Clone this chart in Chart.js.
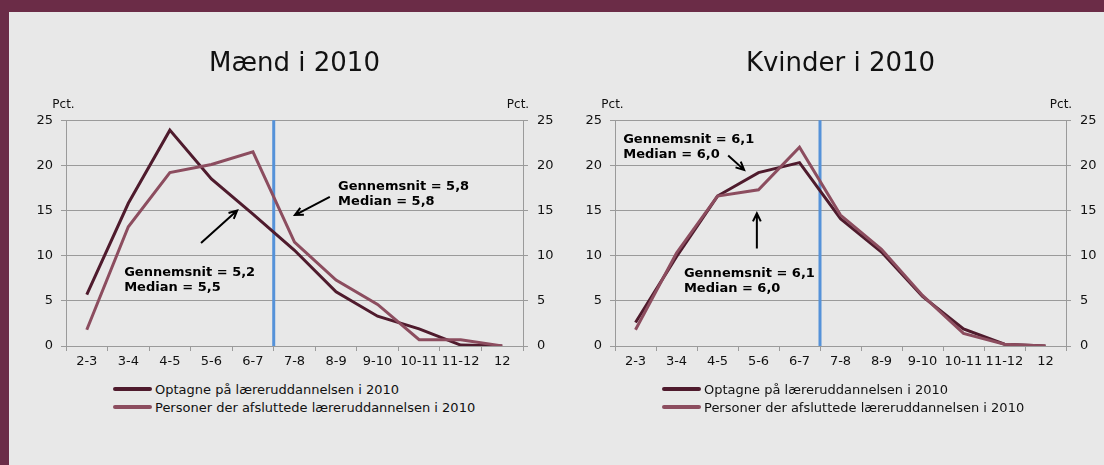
<!DOCTYPE html>
<html lang="da">
<head>
<meta charset="utf-8">
<title>Mænd og kvinder i 2010</title>
<script src="https://cdn.jsdelivr.net/npm/chart.js@4.4.1/dist/chart.umd.min.js"></script>
<style>
    html, body { margin: 0; padding: 0; }
    body {
        width: 1104px; height: 465px; position: relative; overflow: hidden;
        background: #e8e8e8;
        font-family: "DejaVu Sans", Verdana, sans-serif;
    }
    .band { position: absolute; left: 0; top: 0; width: 1104px; height: 12px; background: #6b2c47; }
    .side { position: absolute; left: 0; top: 0; width: 9px; height: 465px; background: #6b2c47; }
    canvas { position: absolute; top: 12px; }
    #maendChart { left: 9px; }
    #kvinderChart { left: 552px; }
    .legend { position: absolute; top: 380px; font-size: 13px; color: #111; }
    .legend .row { height: 18px; display: flex; align-items: center; white-space: nowrap; }
    .legend .swatch { display: inline-block; width: 39px; height: 4px; border-radius: 2px; margin-right: 3px; }
    #maendLegend { left: 113px; }
    #kvinderLegend { left: 662px; }
</style>
</head>
<body>
<div class="band"></div>
<div class="side"></div>
<canvas id="maendChart" width="545" height="364"></canvas>
<canvas id="kvinderChart" width="552" height="364"></canvas>
<div class="legend" id="maendLegend"></div>
<div class="legend" id="kvinderLegend"></div>

<script>
// --- Data ---
const karakterer = ['2-3', '3-4', '4-5', '5-6', '6-7', '7-8', '8-9', '9-10', '10-11', '11-12', '12'];
const yTicks = [0, 5, 10, 15, 20, 25];

const serieNavne = ['Optagne på læreruddannelsen i 2010', 'Personer der afsluttede læreruddannelsen i 2010'];

const maendOptagne    = [5.7, 15.8, 23.9, 18.5, 14.6, 10.6, 6.0, 3.3, 1.9, 0.1, 0.0];
const maendAfsluttede = [1.8, 13.2, 19.2, 20.1, 21.5, 11.5, 7.3, 4.6, 0.7, 0.7, 0.0];

const kvinderOptagne    = [2.6, 9.9, 16.6, 19.2, 20.3, 14.1, 10.4, 5.5, 1.9, 0.2, 0.0];
const kvinderAfsluttede = [1.8, 10.3, 16.6, 17.3, 22.0, 14.5, 10.7, 5.6, 1.4, 0.2, 0.0];

// Skillelinje mellem 6-7 og 7-8 (kategori-indeks)
const skillelinjeIndeks = 4.5;

// Noter: tekst og pile, placeret i data-enheder (kategori-indeks, pct.)
const maendNoter = [
    { tekst: ['Gennemsnit = 5,2', 'Median = 5,5'], x: 0.9, y: 8.1 },
    { tekst: ['Gennemsnit = 5,8', 'Median = 5,8'], x: 6.05, y: 17.6 },
    { pil: [2.75, 11.4, 3.62, 15.0] },
    { pil: [5.85, 16.5, 5.01, 14.5] }
];
const kvinderNoter = [
    { tekst: ['Gennemsnit = 6,1', 'Median = 6,0'], x: -0.3, y: 22.8 },
    { tekst: ['Gennemsnit = 6,1', 'Median = 6,0'], x: 1.18, y: 8.0 },
    { pil: [2.26, 21.1, 2.65, 19.5] },
    { pil: [2.96, 10.8, 2.96, 14.7] }
];

const FONT = '"DejaVu Sans", Verdana, sans-serif';
const morkFarve = '#4f1b2d';
const lysFarve = '#8c4d5f';
const gitterFarve = '#9a9a9a';

// Blå lodret linje, tegnet under kurverne
const skillelinjePlugin = {
    id: 'skillelinje',
    beforeDatasetsDraw(chart, args, opts) {
        const x = chart.scales.x.getPixelForValue(opts.value);
        const area = chart.chartArea;
        const ctx = chart.ctx;
        ctx.save();
        ctx.strokeStyle = '#5592d9';
        ctx.lineWidth = 3;
        ctx.beginPath();
        ctx.moveTo(x, area.top);
        ctx.lineTo(x, area.bottom);
        ctx.stroke();
        ctx.restore();
    }
};

// "Pct." over begge y-akser + tekstnoter og pile
const noterPlugin = {
    id: 'noter',
    afterDraw(chart, args, opts) {
        const ctx = chart.ctx;
        const xs = chart.scales.x, ys = chart.scales.y;
        ctx.save();

        ctx.fillStyle = '#111';
        ctx.font = '12px ' + FONT;
        ctx.textAlign = 'center';
        ctx.textBaseline = 'middle';
        ctx.fillText('Pct.', chart.scales.y.right - 2.5, chart.chartArea.top - 15);
        ctx.fillText('Pct.', chart.scales.y2.left - 5, chart.chartArea.top - 15);

        ctx.font = 'bold 13px ' + FONT;
        ctx.textAlign = 'left';
        ctx.strokeStyle = '#000';
        ctx.fillStyle = '#000';
        ctx.lineWidth = 2;
        (opts.items || []).forEach(n => {
            if (n.tekst) {
                const x = xs.getPixelForValue(n.x);
                const y = ys.getPixelForValue(n.y);
                n.tekst.forEach((linje, i) => ctx.fillText(linje, x, y + i * 15));
            }
            if (n.pil) {
                const x1 = xs.getPixelForValue(n.pil[0]), y1 = ys.getPixelForValue(n.pil[1]);
                const x2 = xs.getPixelForValue(n.pil[2]), y2 = ys.getPixelForValue(n.pil[3]);
                const vinkel = Math.atan2(y2 - y1, x2 - x1);
                const hoved = 9;
                ctx.beginPath();
                ctx.moveTo(x1, y1);
                ctx.lineTo(x2, y2);
                ctx.moveTo(x2 - hoved * Math.cos(vinkel - 0.45), y2 - hoved * Math.sin(vinkel - 0.45));
                ctx.lineTo(x2, y2);
                ctx.lineTo(x2 - hoved * Math.cos(vinkel + 0.45), y2 - hoved * Math.sin(vinkel + 0.45));
                ctx.stroke();
            }
        });
        ctx.restore();
    }
};

function yAkse(position, padding) {
    return {
        position: position,
        min: 0,
        max: 25,
        afterBuildTicks: s => { s.ticks = yTicks.map(v => ({ value: v })); },
        afterFit: s => { s.width = 30; },
        ticks: { color: '#111', font: { family: FONT, size: 13 }, padding: padding },
        grid: {
            color: gitterFarve,
            tickColor: gitterFarve,
            tickLength: 5,
            drawOnChartArea: position === 'left'
        },
        border: { color: gitterFarve }
    };
}

function lavFigur(canvasId, legendId, titel, optagne, afsluttede, noter, padLeft, padRight) {
    const ctx = document.getElementById(canvasId).getContext('2d');
    const chart = new Chart(ctx, {
        type: 'line',
        data: {
            labels: karakterer,
            datasets: [
                {
                    label: serieNavne[0],
                    data: optagne,
                    borderColor: morkFarve,
                    borderWidth: 3,
                    pointRadius: 0,
                    tension: 0,
                    fill: false,
                    order: 1
                },
                {
                    label: serieNavne[1],
                    data: afsluttede,
                    borderColor: lysFarve,
                    borderWidth: 3,
                    pointRadius: 0,
                    tension: 0,
                    fill: false,
                    order: 0
                }
            ]
        },
        options: {
            responsive: false,
            animation: false,
            layout: { padding: { left: padLeft, right: padRight, top: 0, bottom: 0 } },
            plugins: {
                legend: { display: false },
                tooltip: { enabled: false },
                title: {
                    display: true,
                    text: titel,
                    color: '#111',
                    font: { family: FONT, size: 26, weight: 'normal' },
                    padding: { top: 37, bottom: 40 }
                },
                skillelinje: { value: skillelinjeIndeks },
                noter: { items: noter }
            },
            scales: {
                x: {
                    offset: true,
                    afterFit: s => { s.height = 30; },
                    ticks: { color: '#111', font: { family: FONT, size: 13 }, padding: 3, maxRotation: 0, autoSkip: false },
                    grid: {
                        offset: true,
                        drawOnChartArea: false,
                        color: gitterFarve,
                        tickColor: gitterFarve,
                        tickLength: 5
                    },
                    border: { color: gitterFarve }
                },
                y: yAkse('left', 8),
                y2: yAkse('right', 9)
            }
        },
        plugins: [skillelinjePlugin, noterPlugin]
    });

    // Legende under figuren, bygget fra datasættene
    const legend = document.getElementById(legendId);
    chart.data.datasets.forEach(ds => {
        const row = document.createElement('div');
        row.className = 'row';
        const swatch = document.createElement('span');
        swatch.className = 'swatch';
        swatch.style.background = ds.borderColor;
        row.appendChild(swatch);
        row.appendChild(document.createTextNode(ds.label));
        legend.appendChild(row);
    });
    return chart;
}

lavFigur('maendChart', 'maendLegend', 'Mænd i 2010', maendOptagne, maendAfsluttede, maendNoter, 27, 1);
lavFigur('kvinderChart', 'kvinderLegend', 'Kvinder i 2010', kvinderOptagne, kvinderAfsluttede, kvinderNoter, 33, 8);
</script>
</body>
</html>
